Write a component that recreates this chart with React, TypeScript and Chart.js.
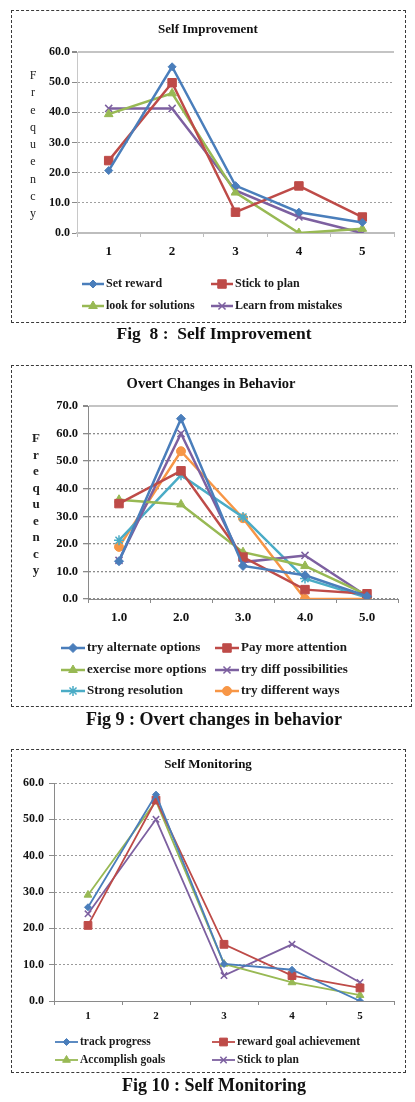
import React, { useEffect, useRef } from 'react';
import { Chart, registerables } from 'chart.js';
Chart.register(...registerables);

// ---------- Fig 8: Self Improvement ----------
const cats1 = ['1', '2', '3', '4', '5'];
const setReward = [20.7, 55.1, 15.7, 6.9, 3.5];
const stickToPlan1 = [24.0, 49.8, 6.9, 15.6, 5.3];
const lookForSolutions = [39.4, 46.3, 13.4, 0.0, 1.4];
const learnFromMistakes = [41.3, 41.3, 14.1, 5.3, 0.0];

// ---------- Fig 9: Overt changes in behavior ----------
const cats2 = ['1.0', '2.0', '3.0', '4.0', '5.0'];
const tryAlternateOptions = [13.7, 65.4, 12.0, 8.6, 1.0];
const payMoreAttention = [34.6, 46.5, 15.2, 3.4, 1.9];
const exerciseMoreOptions = [36.0, 34.3, 17.0, 12.0, 1.5];
const tryDiffPossibilities = [14.0, 60.0, 13.4, 15.8, 1.0];
const strongResolution = [21.3, 44.9, 29.7, 7.4, 0.5];
const tryDifferentWays = [18.9, 53.6, 29.3, 0.0, 0.0];

// ---------- Fig 10: Self Monitoring ----------
const cats3 = ['1', '2', '3', '4', '5'];
const trackProgress = [25.8, 56.8, 10.2, 8.6, 0.0];
const rewardGoalAchievement = [20.8, 55.3, 15.6, 7.0, 3.6];
const accomplishGoals = [29.2, 55.0, 10.2, 5.1, 1.6];
const stickToPlan3 = [24.0, 50.0, 7.0, 15.6, 5.1];

const BLUE = '#4a7ebb';
const RED = '#be4b48';
const GREEN = '#98b954';
const PURPLE = '#7d60a0';
const CYAN = '#4bacc6';
const ORANGE = '#f79646';

const SERIF = "'Liberation Serif', 'Times New Roman', serif";

type Series = { label: string; data: number[]; color: string; style: string; radius: number };
type LegendItem = { x: number; y: number };

type ChartProps = {
  top: number;
  height: number;
  labels: string[];
  series: Series[];
  yMax: number;
  plot: { left: number; right: number; top: number; bottom: number };
  xH: number;
  xPad: number;
  xFont: number;
  yFont: number;
  yPad: number;
  lineWidth: number;
  topSolid: boolean;
  yBorderColor: string;
  xBorderColor: string;
  xBorderWidth: number;
  gridColor: string;
  gridWidth: number;
  legend: { items: LegendItem[]; lineLen: number; font: string };
};

function LineChart(p: ChartProps) {
  const ref = useRef<HTMLCanvasElement>(null);
  useEffect(() => {
    const W = 415;
    const legendPlugin = {
      id: 'customLegend',
      afterDraw(chart: any) {
        const ctx = chart.ctx;
        p.legend.items.forEach((it, i) => {
          const s = p.series[i];
          ctx.save();
          ctx.strokeStyle = s.color;
          ctx.lineWidth = p.lineWidth;
          ctx.beginPath();
          ctx.moveTo(it.x, it.y);
          ctx.lineTo(it.x + p.legend.lineLen, it.y);
          ctx.stroke();
          ctx.restore();
          const pt = chart.getDatasetMeta(i).data[0];
          const ox = pt.x;
          const oy = pt.y;
          pt.x = it.x + p.legend.lineLen / 2;
          pt.y = it.y;
          pt.draw(ctx);
          pt.x = ox;
          pt.y = oy;
          ctx.save();
          ctx.fillStyle = '#1a1a1a';
          ctx.font = p.legend.font;
          ctx.textBaseline = 'middle';
          ctx.textAlign = 'left';
          ctx.fillText(s.label, it.x + p.legend.lineLen + 2, it.y);
          ctx.restore();
        });
      },
    };
    const chart = new Chart(ref.current as HTMLCanvasElement, {
      type: 'line',
      data: {
        labels: p.labels,
        datasets: p.series.map((s) => ({
          label: s.label,
          data: s.data,
          borderColor: s.color,
          backgroundColor: s.color,
          pointBackgroundColor: s.color,
          pointBorderColor: s.color,
          pointStyle: s.style as any,
          pointRadius: s.radius,
          pointBorderWidth: s.style === 'crossRot' || s.style === 'star' ? 1.5 : 1,
          borderWidth: p.lineWidth,
          tension: 0,
          fill: false,
        })),
      },
      options: {
        responsive: false,
        maintainAspectRatio: false,
        animation: false,
        layout: {
          padding: {
            left: 0,
            right: W - p.plot.right,
            top: p.plot.top,
            bottom: p.height - p.plot.bottom - p.xH,
          },
        },
        plugins: {
          legend: { display: false },
          title: { display: false },
          tooltip: { enabled: false },
        },
        scales: {
          x: {
            offset: true,
            grid: {
              offset: true,
              drawOnChartArea: false,
              drawTicks: true,
              tickLength: 4,
              color: p.xBorderColor,
            },
            border: { display: true, color: p.xBorderColor, width: p.xBorderWidth },
            ticks: {
              color: '#111',
              font: { family: SERIF, size: p.xFont, weight: 'bold' },
              padding: p.xPad,
              maxRotation: 0,
              autoSkip: false,
            },
            afterFit: (s: any) => {
              s.height = p.xH;
            },
          },
          y: {
            min: 0,
            max: p.yMax,
            ticks: {
              stepSize: 10,
              color: '#111',
              padding: p.yPad,
              font: { family: SERIF, size: p.yFont, weight: 'bold' },
              callback: (v: any) => Number(v).toFixed(1),
            },
            grid: {
              drawTicks: true,
              tickLength: 5,
              color: (c: any) =>
                p.topSolid && c.tick && c.tick.value === p.yMax ? '#c4c4c4' : p.gridColor,
              lineWidth: (c: any) => (p.topSolid && c.tick && c.tick.value === p.yMax ? 2 : p.gridWidth),
              tickColor: '#8a8a8a',
            },
            border: {
              display: true,
              color: p.yBorderColor,
              width: 1,
              dash: (c: any) => (p.topSolid && c.tick && c.tick.value === p.yMax ? [] : [2, 2]),
            },
            afterFit: (s: any) => {
              s.width = p.plot.left;
            },
          },
        },
      } as any,
      plugins: [legendPlugin],
    });
    return () => chart.destroy();
  }, []);
  return (
    <canvas
      ref={ref}
      width={415}
      height={p.height}
      style={{ position: 'absolute', left: 0, top: p.top, width: 415, height: p.height }}
    />
  );
}

function Box({ left, top, width, height }: { left: number; top: number; width: number; height: number }) {
  return (
    <div
      style={{
        position: 'absolute',
        left,
        top,
        width,
        height,
        boxSizing: 'border-box',
        border: '1px dashed #3a3a3a',
        background: '#fff',
      }}
    />
  );
}

function Text({ cx, cy, text, size, bold = true }: { cx: number; cy: number; text: string; size: number; bold?: boolean }) {
  const lh = Math.round(size * 1.3);
  return (
    <div
      style={{
        position: 'absolute',
        left: cx - 200,
        width: 400,
        top: cy - lh / 2,
        height: lh,
        lineHeight: lh + 'px',
        textAlign: 'center',
        fontFamily: SERIF,
        fontSize: size,
        fontWeight: bold ? 'bold' : 'normal',
        color: '#111',
        whiteSpace: 'pre',
      }}
    >
      {text}
    </div>
  );
}

function VLetters({ cx, cy0, step, size, bold }: { cx: number; cy0: number; step: number; size: number; bold: boolean }) {
  const letters = 'Frequency'.split('');
  return (
    <>
      {letters.map((l, i) => (
        <div
          key={i}
          style={{
            position: 'absolute',
            left: cx - 10,
            width: 20,
            top: cy0 + i * step - 8,
            height: 16,
            lineHeight: '16px',
            textAlign: 'center',
            fontFamily: SERIF,
            fontSize: size,
            fontWeight: bold ? 'bold' : 'normal',
            color: '#222',
          }}
        >
          {l}
        </div>
      ))}
    </>
  );
}

const series1: Series[] = [
  { label: 'Set reward', data: setReward, color: BLUE, style: 'rectRot', radius: 4 },
  { label: 'Stick to plan', data: stickToPlan1, color: RED, style: 'rect', radius: 6 },
  { label: 'look for solutions', data: lookForSolutions, color: GREEN, style: 'triangle', radius: 5 },
  { label: 'Learn from mistakes', data: learnFromMistakes, color: PURPLE, style: 'crossRot', radius: 5 },
];

const series2: Series[] = [
  { label: 'try alternate options', data: tryAlternateOptions, color: BLUE, style: 'rectRot', radius: 4.5 },
  { label: 'Pay more attention', data: payMoreAttention, color: RED, style: 'rect', radius: 6 },
  { label: 'exercise more options', data: exerciseMoreOptions, color: GREEN, style: 'triangle', radius: 5 },
  { label: 'try diff possibilities', data: tryDiffPossibilities, color: PURPLE, style: 'crossRot', radius: 5 },
  { label: 'Strong resolution', data: strongResolution, color: CYAN, style: 'star', radius: 5 },
  { label: 'try different ways', data: tryDifferentWays, color: ORANGE, style: 'circle', radius: 4.5 },
];

const series3: Series[] = [
  { label: 'track progress', data: trackProgress, color: BLUE, style: 'rectRot', radius: 3.5 },
  { label: 'reward goal achievement', data: rewardGoalAchievement, color: RED, style: 'rect', radius: 5.5 },
  { label: 'Accomplish goals', data: accomplishGoals, color: GREEN, style: 'triangle', radius: 4.5 },
  { label: 'Stick to plan', data: stickToPlan3, color: PURPLE, style: 'crossRot', radius: 4.5 },
];

export default function App() {
  return (
    <div style={{ position: 'absolute', left: 0, top: 0, width: 415, height: 1102, background: '#fff', overflow: 'hidden' }}>
      {/* Fig 8 */}
      <Box left={11} top={10} width={395} height={313} />
      <LineChart
        top={10}
        height={313}
        labels={cats1}
        series={series1}
        yMax={60}
        plot={{ left: 77, right: 394, top: 42, bottom: 223 }}
        xH={30}
        xPad={7}
        xFont={13}
        yFont={12}
        yPad={2}
        lineWidth={2.5}
        topSolid={true}
        yBorderColor="#c8c8c8"
        xBorderColor="#bdbdbd"
        xBorderWidth={2}
        gridColor="#a0a0a0"
        gridWidth={1}
        legend={{
          items: [
            { x: 82, y: 274 },
            { x: 211, y: 274 },
            { x: 82, y: 296 },
            { x: 211, y: 296 },
          ],
          lineLen: 22,
          font: `bold 12px ${SERIF}`,
        }}
      />
      <Text cx={208} cy={28} text="Self Improvement" size={13} />
      <VLetters cx={33} cy0={75} step={17.25} size={12} bold={false} />
      <Text cx={214} cy={333} text={'Fig  8 :  Self Improvement'} size={17.5} />

      {/* Fig 9 */}
      <Box left={11} top={365} width={401} height={342} />
      <LineChart
        top={365}
        height={342}
        labels={cats2}
        series={series2}
        yMax={70}
        plot={{ left: 88, right: 398, top: 41, bottom: 234 }}
        xH={30}
        xPad={7}
        xFont={13}
        yFont={12.5}
        yPad={5}
        lineWidth={2.5}
        topSolid={true}
        yBorderColor="#8a8a8a"
        xBorderColor="#8a8a8a"
        xBorderWidth={1}
        gridColor="#8c8c8c"
        gridWidth={1.3}
        legend={{
          items: [
            { x: 61, y: 283 },
            { x: 215, y: 283 },
            { x: 61, y: 305 },
            { x: 215, y: 305 },
            { x: 61, y: 326 },
            { x: 215, y: 326 },
          ],
          lineLen: 24,
          font: `bold 13px ${SERIF}`,
        }}
      />
      <Text cx={211} cy={383} text="Overt Changes in Behavior" size={14.5} />
      <VLetters cx={36} cy0={438} step={16.5} size={13} bold={true} />
      <Text cx={214} cy={719} text="Fig 9 : Overt changes in behavior" size={18} />

      {/* Fig 10 */}
      <Box left={11} top={749} width={395} height={324} />
      <LineChart
        top={749}
        height={324}
        labels={cats3}
        series={series3}
        yMax={60}
        plot={{ left: 54, right: 394, top: 34, bottom: 252 }}
        xH={25}
        xPad={5}
        xFont={11}
        yFont={12}
        yPad={5}
        lineWidth={1.8}
        topSolid={false}
        yBorderColor="#8a8a8a"
        xBorderColor="#8a8a8a"
        xBorderWidth={1}
        gridColor="#9a9a9a"
        gridWidth={1}
        legend={{
          items: [
            { x: 55, y: 293 },
            { x: 212, y: 293 },
            { x: 55, y: 311 },
            { x: 212, y: 311 },
          ],
          lineLen: 23,
          font: `bold 11.5px ${SERIF}`,
        }}
      />
      <Text cx={208} cy={763} text="Self Monitoring" size={13} />
      <Text cx={214} cy={1085} text="Fig 10 : Self Monitoring" size={18} />
    </div>
  );
}
